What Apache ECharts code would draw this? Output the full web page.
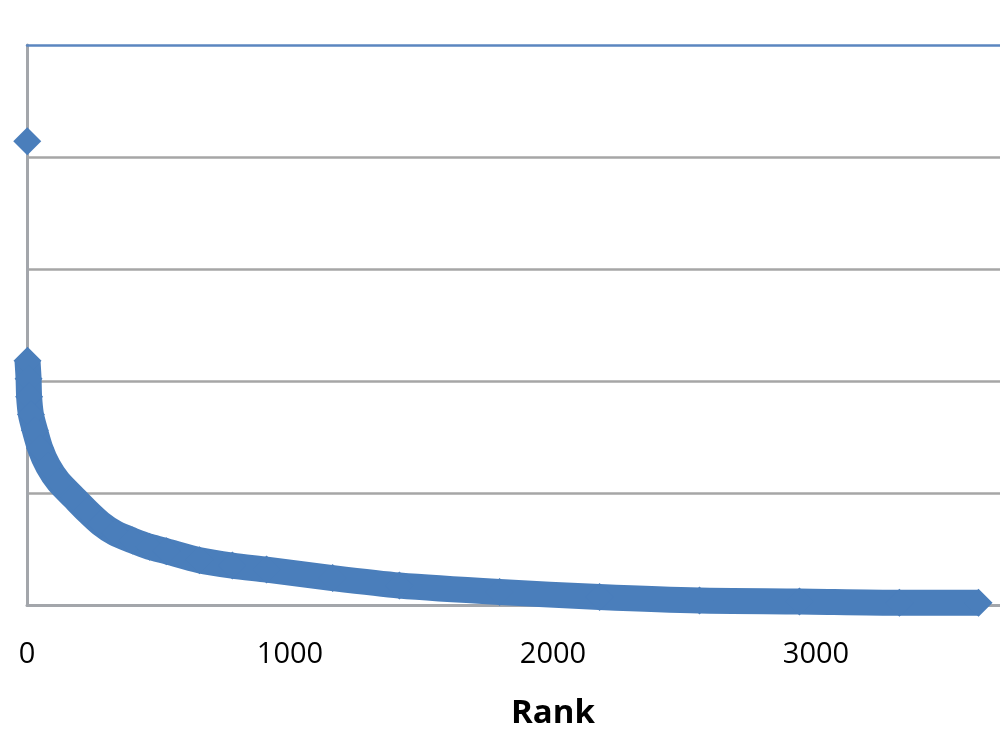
<!DOCTYPE html>
<html>
<head>
<meta charset="utf-8">
<script src="https://cdn.jsdelivr.net/npm/echarts@6/dist/echarts.min.js"></script>
<style>html,body{margin:0;padding:0;background:#fff;}#c{width:1000px;height:750px;}</style>
</head>
<body>
<div id="c"></div>
<script>
// Data
const outlierRank = [1];
const outlierValue = [207];
const ranks  = [2, 6, 8, 15, 30, 50, 80, 120, 178, 228, 280, 336, 401, 466, 530, 656, 781, 911, 1162, 1416, 1797, 2177, 2557, 2937, 3317, 3618];
const values = [109, 101, 93, 85, 78, 70, 62, 55, 48, 42, 36.4, 32, 28.8, 26, 24, 20, 17.6, 15.8, 12, 8.7, 5.8, 3.6, 2, 1.6, 1, 1];
const xTicks = [0, 1000, 2000, 3000, 4000];
const yMax = 250;

const chart = echarts.init(document.getElementById('c'), null, {renderer: 'canvas'});
const blue = '#4a7ebb';
const grey = '#a3a6ab';
chart.setOption({
  animation: false,
  backgroundColor: '#ffffff',
  grid: {left: 27, top: 45, width: 1052, height: 560, containLabel: false, outerBoundsMode: 'none'},
  xAxis: [{
    type: 'value', min: xTicks[0], max: xTicks[xTicks.length - 1], interval: 1000,
    name: 'Rank', nameLocation: 'middle', nameGap: 92,
    nameTextStyle: {fontFamily: 'Open Sans', fontWeight: 'bold', fontSize: 33, color: '#000'},
    axisLine: {show: true, onZero: false, lineStyle: {color: grey, width: 3}},
    axisTick: {show: false},
    axisLabel: {fontFamily: 'Open Sans', fontSize: 29, color: '#000', margin: 35,
      formatter: v => String(v)},
    splitLine: {show: false}
  }, {
    type: 'value', position: 'top', min: 0, max: 4000,
    axisLine: {show: true, onZero: false, lineStyle: {color: '#5b86c0', width: 2.5}},
    axisTick: {show: false}, axisLabel: {show: false}, splitLine: {show: false}
  }],
  yAxis: {
    type: 'value', min: 0, max: yMax, interval: 50,
    axisLine: {show: true, onZero: false, lineStyle: {color: grey, width: 3}},
    axisTick: {show: false},
    axisLabel: {show: false},
    splitLine: {show: true, showMaxLine: false, lineStyle: {color: '#a6a6a6', width: 2.5}}
  },
  series: [{
    type: 'line',
    data: ranks.map((r, i) => [r, values[i]]),
    symbol: 'diamond', symbolSize: 28, showSymbol: true,
    smooth: 0.25,
    itemStyle: {color: blue, opacity: 1},
    lineStyle: {color: blue, width: 26, join: 'round'},
    clip: false, z: 3
  }, {
    type: 'scatter',
    data: outlierRank.map((r, i) => [r, outlierValue[i]]),
    symbol: 'diamond', symbolSize: 28,
    itemStyle: {color: blue, opacity: 1},
    clip: false, z: 3
  }]
});
</script>
</body>
</html>
